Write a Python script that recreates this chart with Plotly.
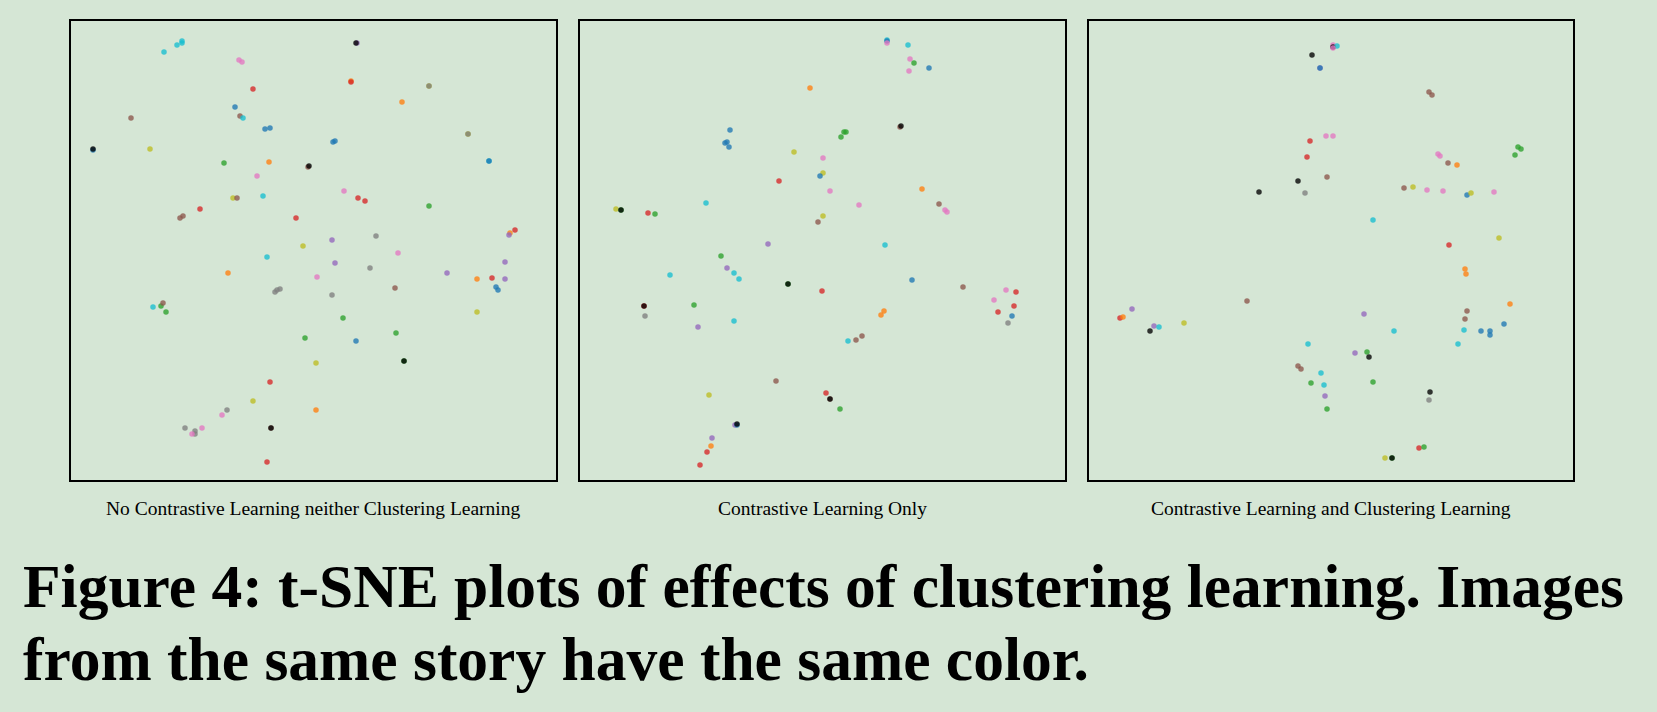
import plotly.graph_objects as go

# t-SNE embedding coordinates (arbitrary units) and story ids
# story ids: 0 blue,1 orange,2 green,3 red,4 purple,5 brown,6 pink,7 gray,8 olive,9 cyan,10 black
p1_x = [93,106,111,111,286,285,168,171,280,280,358,358,182,331,164,60,169,172,194,199,262,264,397,397,22,22,79,418,418,153,198,237,238,186,273,287,294,162,166,192,358,129,109,112,225,444,439,438,305,261,232,327,196,264,299,157,246,204,206,209,261,324,376,406,421,434,434,425,427,406,82,90,92,95,272,234,285,325,245,333,333,199,182,156,151,245,114,124,124,121,131,200,200,196]
p1_y = [428,435,439,437,437,437,420,418,399,398,394,394,391,378,373,362,364,362,351,352,338,339,346,346,330,331,331,319,319,317,318,313,314,304,289,282,279,282,282,284,274,271,262,264,262,250,247,245,244,240,234,227,223,217,212,207,203,188,190,191,185,192,207,201,202,218,201,193,190,168,173,174,177,168,162,142,139,147,117,119,119,98,79,70,65,70,52,49,46,46,52,52,52,18]
p1_s = [9,9,9,9,4,10,6,6,1,3,8,7,3,1,0,5,5,9,0,0,0,0,8,7,0,10,8,9,0,2,1,5,10,6,6,3,3,8,5,9,2,3,5,5,3,3,1,4,7,4,8,6,9,4,7,1,6,7,7,7,7,5,4,1,3,4,4,0,0,8,9,2,5,2,2,2,0,2,8,2,10,3,8,7,6,1,7,7,7,6,6,5,10,3]

p2_x = [307,307,307,328,330,334,329,349,230,150,145,147,149,320,321,264,266,261,214,243,243,240,199,250,342,279,359,365,367,36,41,41,68,75,126,243,238,188,305,141,147,154,159,90,208,208,242,332,383,426,436,414,434,418,432,428,64,64,65,114,118,154,304,301,282,276,268,196,246,250,250,260,129,155,157,157,132,131,127,120]
p2_y = [440,439,437,435,421,417,409,412,392,350,337,338,333,353,354,348,348,343,328,322,307,304,299,289,291,275,276,270,268,271,270,270,267,266,277,264,258,236,235,224,212,207,201,205,196,196,189,200,193,190,188,180,174,168,164,157,174,174,164,175,153,159,169,165,144,140,139,99,87,81,81,71,85,55,55,56,42,34,28,15]
p2_s = [9,0,6,9,6,2,6,0,1,0,0,0,0,5,10,2,2,2,8,6,8,0,3,6,1,6,5,6,6,8,2,10,3,2,9,8,5,4,9,2,4,9,9,9,2,10,3,0,5,6,3,6,3,3,0,7,3,10,7,2,4,9,1,1,5,5,9,5,3,5,10,2,8,4,0,10,4,1,3,3]

p3_x = [244,244,248,244,223,231,231,340,343,237,244,221,218,238,209,170,216,349,351,359,368,429,432,426,315,324,338,354,378,382,405,284,410,360,376,377,421,378,376,375,369,392,401,401,415,158,275,305,43,31,34,65,70,61,95,219,266,278,280,209,212,232,222,235,284,236,238,341,340,330,335,296,303,303]
p3_y = [435,433,434,432,425,412,412,388,385,344,344,339,323,303,299,288,287,326,324,317,315,333,331,325,292,293,290,289,285,287,288,260,242,235,211,206,176,169,161,150,136,149,149,145,156,179,166,149,171,162,163,154,153,149,157,136,127,128,123,114,111,107,97,95,98,84,71,88,80,32,33,22,22,22]
p3_s = [6,10,9,6,10,4,0,5,5,6,6,3,3,5,10,10,7,6,6,5,1,2,2,2,5,8,6,6,0,8,6,9,8,3,1,1,1,5,5,9,9,0,0,0,0,5,4,9,4,3,1,4,9,10,8,9,4,2,10,5,5,9,2,9,2,4,2,10,7,3,2,8,2,10]

palette = ["#1f77b4", "#ff7f0e", "#2ca02c", "#d62728", "#9467bd", "#8c564b",
           "#e377c2", "#7f7f7f", "#bcbd22", "#17becf", "#000000"]

panel_titles = ["No Contrastive Learning neither Clustering Learning",
                "Contrastive Learning Only",
                "Contrastive Learning and Clustering Learning"]
caption_lines = ["Figure 4: t-SNE plots of effects of clustering learning. Images",
                 "from the same story have the same color."]

BG = "#d5e6d5"
W, H = 1657, 712
panels_px = [(71, 556), (580, 1065), (1089, 1573)]
top_px, bot_px = 21, 480

fig = go.Figure()
data = [(p1_x, p1_y, p1_s), (p2_x, p2_y, p2_s), (p3_x, p3_y, p3_s)]
for i, (xs, ys, ss) in enumerate(data):
    suffix = "" if i == 0 else str(i + 1)
    fig.add_trace(go.Scatter(
        x=xs, y=ys, mode="markers",
        marker=dict(size=5.5, color=[palette[s] for s in ss], opacity=0.78,
                    line=dict(width=0)),
        xaxis="x" + suffix, yaxis="y" + suffix, showlegend=False,
        hoverinfo="skip"))
    l, r = panels_px[i]
    axcommon = dict(showgrid=False, zeroline=False, showticklabels=False, ticks="",
                    showline=True, mirror=True, linecolor="black", linewidth=2)
    fig.layout["xaxis" + suffix] = dict(domain=[l / W, r / W], range=[0, r - l],
                                        anchor="y" + suffix, **axcommon)
    fig.layout["yaxis" + suffix] = dict(domain=[1 - bot_px / H, 1 - top_px / H],
                                        range=[0, bot_px - top_px],
                                        anchor="x" + suffix, **axcommon)
    fig.add_annotation(text=panel_titles[i], xref="paper", yref="paper",
                       x=(l + r) / 2 / W, y=1 - 508 / H, xanchor="center", yanchor="middle",
                       showarrow=False,
                       font=dict(family="Liberation Serif", size=19.5, color="black"))

for j, line in enumerate(caption_lines):
    fig.add_annotation(text="<b>" + line + "</b>", xref="paper", yref="paper",
                       x=21 / W, y=1 - (586 + 73 * j) / H, xanchor="left", yanchor="middle",
                       showarrow=False,
                       font=dict(family="Liberation Serif", size=61.5, color="black"))

fig.update_layout(width=W, height=H, margin=dict(l=0, r=0, t=0, b=0),
                  paper_bgcolor=BG, plot_bgcolor=BG)
fig.write_html("out.html", config={"displayModeBar": False},
               post_script="document.body.style.margin='0px';document.body.style.background='" + BG + "';")
